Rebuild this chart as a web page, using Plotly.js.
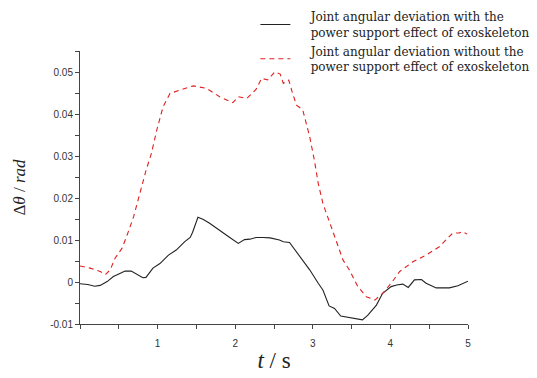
<!DOCTYPE html>
<html>
<head>
<meta charset="utf-8">
<script src="https://cdn.plot.ly/plotly-3.0.1.min.js"></script>
<style>
html,body{margin:0;padding:0;background:#fff;}
#chart{width:537px;height:378px;}
</style>
</head>
<body>
<div id="chart"></div>
<script>
// Joint angular deviation WITH exoskeleton power support (solid black)
const tWith = [0, 0.1, 0.19, 0.26, 0.35, 0.43, 0.5, 0.58, 0.66, 0.74, 0.81, 0.85, 0.94, 1.03, 1.14, 1.24, 1.35, 1.42, 1.45, 1.52, 1.59, 1.67, 1.80, 1.93, 2.04, 2.12, 2.19, 2.27, 2.36, 2.45, 2.57, 2.62, 2.70, 2.83, 2.96, 3.07, 3.13, 3.21, 3.28, 3.36, 3.43, 3.52, 3.64, 3.71, 3.82, 3.90, 4.01, 4.08, 4.16, 4.23, 4.31, 4.40, 4.46, 4.59, 4.76, 4.87, 5.0];
const dWith = [-0.0004, -0.0006, -0.001, -0.0008, 0.0001, 0.0013, 0.0019, 0.0026, 0.0026, 0.0018, 0.001, 0.0011, 0.0033, 0.0044, 0.0064, 0.0076, 0.0096, 0.0106, 0.0118, 0.0154, 0.0149, 0.014, 0.0124, 0.0106, 0.0092, 0.0101, 0.0102, 0.0106, 0.0106, 0.0105, 0.0100, 0.0096, 0.0094, 0.006, 0.0029, -0.0003, -0.0019, -0.0057, -0.0063, -0.0081, -0.0083, -0.0087, -0.009, -0.0079, -0.0055, -0.0027, -0.0011, -0.0007, -0.0005, -0.0013, 0.0005, 0.0006, -0.0003, -0.0014, -0.0014, -0.0009, 0.0002];

// Joint angular deviation WITHOUT exoskeleton power support (dashed red)
const tWithout = [0, 0.13, 0.26, 0.33, 0.39, 0.45, 0.54, 0.60, 0.69, 0.77, 0.85, 0.92, 0.99, 1.07, 1.16, 1.29, 1.46, 1.63, 1.80, 1.97, 2.04, 2.15, 2.27, 2.34, 2.42, 2.51, 2.58, 2.62, 2.69, 2.74, 2.79, 2.87, 2.96, 3.02, 3.07, 3.13, 3.22, 3.32, 3.39, 3.47, 3.58, 3.69, 3.80, 3.90, 4.01, 4.12, 4.29, 4.46, 4.63, 4.80, 4.89, 4.93, 4.99];
const dWithout = [0.0038, 0.0033, 0.0025, 0.0018, 0.0029, 0.0056, 0.008, 0.0108, 0.0155, 0.021, 0.0265, 0.0306, 0.0362, 0.0417, 0.0449, 0.0457, 0.0467, 0.0461, 0.0441, 0.0427, 0.0441, 0.0437, 0.0459, 0.0485, 0.0481, 0.0500, 0.0495, 0.0473, 0.0481, 0.0449, 0.0421, 0.041, 0.0346, 0.029, 0.0235, 0.0187, 0.014, 0.0092, 0.0052, 0.0029, -0.0011, -0.0035, -0.0043, -0.0027, -0.0003, 0.0025, 0.0048, 0.0064, 0.0084, 0.0116, 0.0117, 0.012, 0.0114];

const xTickVals = [1, 2, 3, 4, 5];
const xTickText = ['1', '2', '3', '4', '5'];
const yTickVals = [-0.01, 0, 0.01, 0.02, 0.03, 0.04, 0.05];
const yTickText = ['-0.01', '0', '0.01', '0.02', '0.03', '0.04', '0.05'];

const sp = '\u00a0\u00a0\u00a0\u00a0';
const name1 = sp + 'Joint angular deviation with the<br>' + sp + 'power support effect of exoskeleton';
const name2 = sp + 'Joint angular deviation without the<br>' + sp + 'power support effect of exoskeleton';

const traces = [
  {x: tWith, y: dWith, type: 'scatter', mode: 'lines', name: name1,
   line: {color: '#222222', width: 1.1}},
  {x: tWithout, y: dWithout, type: 'scatter', mode: 'lines', name: name2,
   line: {color: '#e02020', width: 1.1, dash: '5px,4px'}}
];

const tickFont = {family: 'Liberation Sans, Arial, sans-serif', size: 10, color: '#333'};

const layout = {
  width: 537, height: 378,
  margin: {l: 80, r: 69, t: 51, b: 54, autoexpand: false},
  paper_bgcolor: '#fff', plot_bgcolor: '#fff',
  showlegend: true,
  legend: {
    x: 0.452, y: 1.178, xanchor: 'left', yanchor: 'top',
    font: {family: 'DejaVu Serif, serif', size: 12, color: '#222'},
    bgcolor: 'rgba(0,0,0,0)', tracegroupgap: 6, valign: 'middle'
  },
  xaxis: {
    range: [0, 5], showgrid: false, zeroline: false,
    showline: true, linecolor: '#444', linewidth: 1,
    ticks: 'outside', ticklen: 4, tickcolor: '#444', tickwidth: 1,
    tickmode: 'array', tickvals: xTickVals, ticktext: xTickText,
    tickfont: tickFont, ticklabelstandoff: 6,
    minor: {tickmode: 'linear', tick0: 0, dtick: 0.5, ticks: 'outside', ticklen: 4, tickcolor: '#444', showgrid: false},
    title: {text: '<i>t</i> / s', font: {family: 'Liberation Serif, Times New Roman, serif', size: 23, color: '#222'}, standoff: 3}
  },
  yaxis: {
    range: [-0.01, 0.055], showgrid: false, zeroline: false,
    showline: true, linecolor: '#444', linewidth: 1,
    ticks: 'outside', ticklen: 4, tickcolor: '#444', tickwidth: 1,
    tickmode: 'array', tickvals: yTickVals, ticktext: yTickText,
    tickfont: tickFont,
    minor: {tickmode: 'linear', tick0: 0, dtick: 0.005, ticks: 'outside', ticklen: 4, tickcolor: '#444', showgrid: false},
    title: {text: 'Δ<i>θ</i> / <i>rad</i>', font: {family: 'Liberation Serif, Times New Roman, serif', size: 17, color: '#222'}, standoff: 20}
  }
};

Plotly.newPlot('chart', traces, layout, {staticPlot: true, displayModeBar: false});
</script>
</body>
</html>
